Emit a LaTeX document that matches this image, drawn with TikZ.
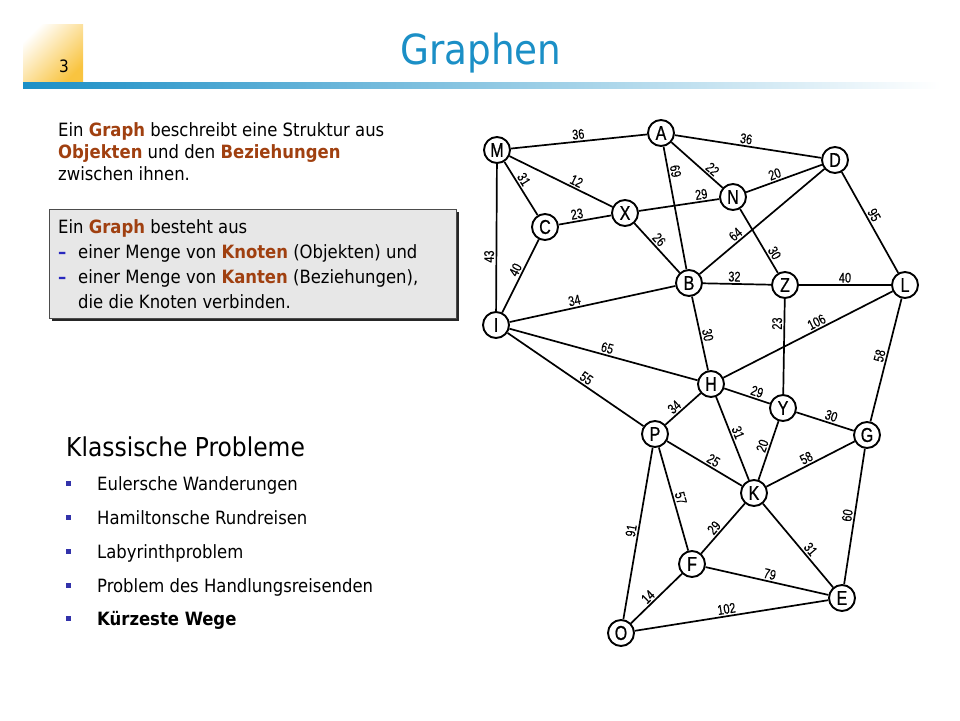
\documentclass[tikz,border=0pt]{standalone}
\usepackage{fontspec}
\setmainfont{DejaVu Sans Condensed}
\newfontfamily\nodefont[FakeStretch=0.8, FakeBold=0.8]{Liberation Sans}
\newfontfamily\numfont[FakeStretch=0.78, FakeBold=0.3]{Liberation Sans}
\usepackage{tikz}

\definecolor{titleblue}{RGB}{27,143,198}
\definecolor{rust}{RGB}{160,64,16}
\definecolor{dashblue}{RGB}{40,40,190}
\definecolor{bulletblue}{RGB}{50,50,170}
\definecolor{boxgray}{RGB}{231,231,231}
\definecolor{gold}{RGB}{249,196,64}

\newcommand{\hl}[1]{\textcolor{rust}{\textbf{#1}}}
\newcommand{\itemdash}{\makebox[20pt][l]{\textcolor{dashblue}{\textbf{--}}}}

\begin{document}
\begin{tikzpicture}[x=1pt, y=-1pt,
	vertex/.style={circle, draw, line width=1.9pt, fill=white, minimum size=26pt, inner sep=0pt, font=\nodefont\fontsize{20}{20}\selectfont},
	cost/.style={sloped, above, inner sep=1.5pt, font=\numfont\fontsize{14}{14}\selectfont},
	link/.style={line width=1.7pt},
	txt/.style={anchor=base west, inner sep=0pt, font=\fontsize{18.3}{20}\selectfont}]

	% header
	\shade[top color=white, bottom color=gold, shading angle=45] (23,24) rectangle (83,82);
	\node[anchor=base, font=\fontsize{17}{17}\selectfont] (num) at (64,72) {3};
	\shade[left color=titleblue, right color=white] (23,82) rectangle (940,88);
	\node[anchor=base, text=titleblue, font=\fontsize{41.5}{41.5}\selectfont] (title) at (481,64) {Graphen};

	% text
	\node[txt] (intro1) at (58,136) {Ein \hl{Graph} beschreibt eine Struktur aus};
	\node[txt] (intro2) at (58,158) {\hl{Objekten} und den \hl{Beziehungen}};
	\node[txt] (intro3) at (58,180) {zwischen ihnen.};

	\fill[black!85] (52,212) rectangle (459,321);
	\draw[fill=boxgray, draw=black!70] (49,209) rectangle (456,318);
	\node[txt] (def1) at (58,233) {Ein \hl{Graph} besteht aus};
	\node[txt] (def2) at (58,258) {\itemdash einer Menge von \hl{Knoten} (Objekten) und};
	\node[txt] (def3) at (58,283) {\itemdash einer Menge von \hl{Kanten} (Beziehungen),};
	\node[txt] (def4) at (78,308) {die die Knoten verbinden.};

	\node[txt, font=\fontsize{26}{26}\selectfont] (probs) at (66,456) {Klassische Probleme};
	\fill[bulletblue] (66,481) rectangle (71,486);
	\node[txt] (prob1) at (97,490) {Eulersche Wanderungen};
	\fill[bulletblue] (66,515) rectangle (71,520);
	\node[txt] (prob2) at (97,524) {Hamiltonsche Rundreisen};
	\fill[bulletblue] (66,549) rectangle (71,554);
	\node[txt] (prob3) at (97,558) {Labyrinthproblem};
	\fill[bulletblue] (66,583) rectangle (71,588);
	\node[txt] (prob4) at (97,592) {Problem des Handlungsreisenden};
	\fill[bulletblue] (66,616) rectangle (71,621);
	\node[txt] (prob5) at (97,625) {\textbf{Kürzeste Wege}};

	% graph
	\node[vertex] (M) at (497,150) {M};
	\node[vertex] (A) at (661,133) {A};
	\node[vertex] (D) at (835,160) {D};
	\node[vertex] (N) at (733,197) {N};
	\node[vertex] (X) at (625,213) {X};
	\node[vertex] (C) at (545,227) {C};
	\node[vertex] (B) at (689,283) {B};
	\node[vertex] (Z) at (785,285) {Z};
	\node[vertex] (L) at (905,285) {L};
	\node[vertex] (I) at (496,325) {I};
	\node[vertex] (H) at (711,384) {H};
	\node[vertex] (Y) at (783,408) {Y};
	\node[vertex] (G) at (867,435) {G};
	\node[vertex] (P) at (655,434) {P};
	\node[vertex] (K) at (754,493) {K};
	\node[vertex] (F) at (692,564) {F};
	\node[vertex] (E) at (842,598) {E};
	\node[vertex] (O) at (621,633) {O};

	\draw[link] (M) -- node[cost] {36} (A);
	\draw[link] (A) -- node[cost, pos=0.48] {36} (D);
	\draw[link] (A) -- node[cost, pos=0.71] {22} (N);
	\draw[link] (A) -- node[cost, pos=0.21] {69} (B);
	\draw[link] (M) -- node[cost, pos=0.62] {12} (X);
	\draw[link] (M) -- node[cost, pos=0.4] {31} (C);
	\draw[link] (I) -- node[cost, pos=0.37] {43} (M);
	\draw[link] (C) -- node[cost, pos=0.37] {23} (X);
	\draw[link] (I) -- node[cost, pos=0.54] {40} (C);
	\draw[link] (X) -- node[cost, pos=0.79] {29} (N);
	\draw[link] (X) -- node[cost, pos=0.43] {26} (B);
	\draw[link] (N) -- node[cost, pos=0.41] {20} (D);
	\draw[link] (N) -- node[cost, pos=0.745] {30} (Z);
	\draw[link] (B) -- node[cost, pos=0.325] {64} (D);
	\draw[link] (D) -- node[cost, pos=0.46] {95} (L);
	\draw[link] (B) -- node[cost, pos=0.46] {32} (Z);
	\draw[link] (Z) -- node[cost] {40} (L);
	\draw[link] (I) -- node[cost, pos=0.4] {34} (B);
	\draw[link] (B) -- node[cost, pos=0.54] {30} (H);
	\draw[link] (Y) -- node[cost, pos=0.74] {23} (Z);
	\draw[link] (H) -- node[cost, pos=0.57] {106} (L);
	\draw[link] (G) -- node[cost, pos=0.52] {58} (L);
	\draw[link] (I) -- node[cost, pos=0.51] {65} (H);
	\draw[link] (I) -- node[cost, pos=0.55] {55} (P);
	\draw[link] (P) -- node[cost, pos=0.39] {34} (H);
	\draw[link] (H) -- node[cost, pos=0.67] {29} (Y);
	\draw[link] (H) -- node[cost, pos=0.46] {31} (K);
	\draw[link] (Y) -- node[cost, pos=0.57] {30} (G);
	\draw[link] (K) -- node[cost, pos=0.54] {20} (Y);
	\draw[link] (K) -- node[cost, pos=0.49] {58} (G);
	\draw[link] (E) -- node[cost] {60} (G);
	\draw[link] (P) -- node[cost, pos=0.57] {25} (K);
	\draw[link] (P) -- node[cost, pos=0.51] {57} (F);
	\draw[link] (O) -- node[cost, pos=0.51] {91} (P);
	\draw[link] (F) -- node[cost, pos=0.42] {29} (K);
	\draw[link] (K) -- node[cost, pos=0.6] {31} (E);
	\draw[link] (F) -- node[cost, pos=0.51] {79} (E);
	\draw[link] (O) -- node[cost, pos=0.43] {14} (F);
	\draw[link] (O) -- node[cost, pos=0.48] {102} (E);

\path (0,0) to (960,720);
\end{tikzpicture}
\end{document}
